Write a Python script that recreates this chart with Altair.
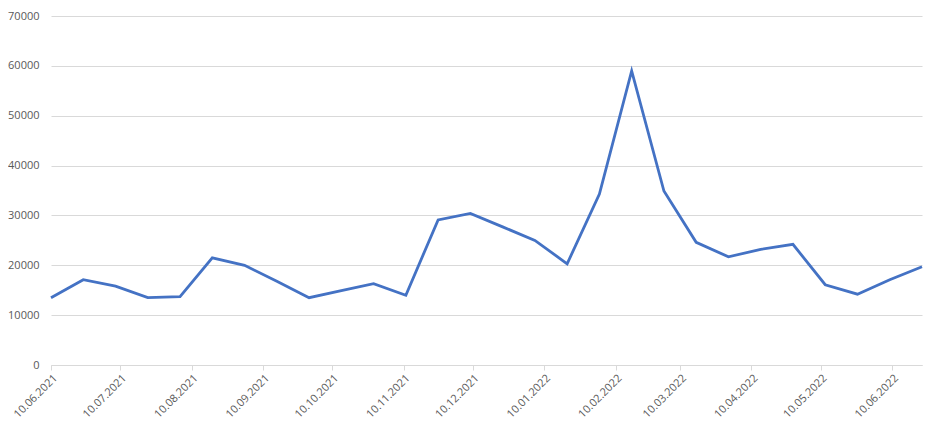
import altair as alt
import pandas as pd

dates = [
    "2021-06-10", "2021-06-24", "2021-07-08", "2021-07-22", "2021-08-05", "2021-08-19",
    "2021-09-02", "2021-09-16", "2021-09-30", "2021-10-14", "2021-10-28", "2021-11-11",
    "2021-11-25", "2021-12-09", "2021-12-23", "2022-01-06", "2022-01-20", "2022-02-03",
    "2022-02-17", "2022-03-03", "2022-03-17", "2022-03-31", "2022-04-14", "2022-04-28",
    "2022-05-12", "2022-05-26", "2022-06-09", "2022-06-23",
]
values = [
    13500, 17100, 15800, 13500, 13700, 21500,
    20000, 16800, 13500, 14900, 16300, 14000,
    29100, 30400, 27700, 25000, 20300, 34300,
    59000, 34900, 24600, 21700, 23200, 24200,
    16100, 14200, 17100, 19700,
]
tick_dates = [
    "2021-06-10", "2021-07-10", "2021-08-10", "2021-09-10", "2021-10-10", "2021-11-10",
    "2021-12-10", "2022-01-10", "2022-02-10", "2022-03-10", "2022-04-10", "2022-05-10",
    "2022-06-10",
]
y_ticks = [0, 10000, 20000, 30000, 40000, 50000, 60000, 70000]

df = pd.DataFrame({"date": dates, "value": values})
tick_ms = [int(pd.Timestamp(d, tz="UTC").value // 10**6) for d in tick_dates]
dom = [int(pd.Timestamp(dates[0], tz="UTC").value // 10**6),
       int(pd.Timestamp(dates[-1], tz="UTC").value // 10**6)]

FONT = "Open Sans"
GREY = "#595959"
GRID = "#d9d9d9"

chart = alt.Chart(df).mark_line(color="#4472C4", strokeWidth=2.8, strokeJoin="miter").encode(
    x=alt.X("date:T", scale=alt.Scale(type="utc", domain=dom, nice=False),
            axis=alt.Axis(title=None, values=tick_ms,
                          labelExpr="utcFormat(datum.value, '%d.%m.%Y')",
                          labelAngle=-45, labelAlign="right", labelBaseline="top",
                          labelFont=FONT, labelFontSize=11, labelColor=GREY,
                          labelPadding=2, labelOverlap=False, labelFlush=False,
                          grid=False, domain=True, domainColor=GRID, domainWidth=1,
                          ticks=True, tickColor=GRID, tickSize=5)),
    y=alt.Y("value:Q", scale=alt.Scale(domain=[0, 70000], nice=False),
            axis=alt.Axis(title=None, values=y_ticks, format="d",
                          labelFont=FONT, labelFontSize=11, labelColor=GREY,
                          labelPadding=12, domain=False, ticks=False,
                          grid=True, gridColor=GRID, gridWidth=1)),
).properties(
    width=871, height=349,
    autosize=alt.AutoSizeParams(type="none"),
    padding={"left": 43, "top": 8, "right": 12, "bottom": 55},
    background="white",
).configure_view(stroke=None)

chart.save("out.html", embed_options={"renderer": "svg", "actions": False})
